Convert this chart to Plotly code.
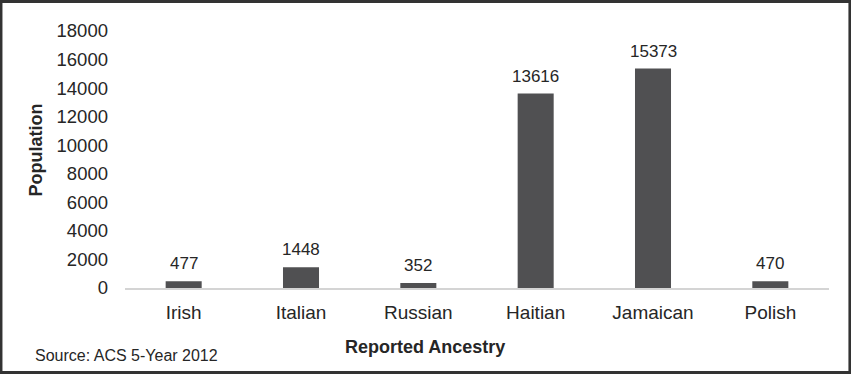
import plotly.graph_objects as go

categories = ["Irish", "Italian", "Russian", "Haitian", "Jamaican", "Polish"]
population = [477, 1448, 352, 13616, 15373, 470]
y_ticks = [0, 2000, 4000, 6000, 8000, 10000, 12000, 14000, 16000, 18000]
y_tick_labels = [str(v) for v in y_ticks]

FONT = "Liberation Sans, Arial, sans-serif"
TXT = "#262626"

fig = go.Figure()
fig.add_trace(go.Bar(
    x=categories, y=population,
    marker=dict(color="#505052", line=dict(width=0)),
    hoverinfo="skip",
))

for c, v in zip(categories, population):
    fig.add_annotation(x=c, y=v, xref="x", yref="y", text=str(v), showarrow=False,
                       yanchor="bottom", yshift=6,
                       font=dict(family=FONT, size=17, color=TXT))

fig.add_annotation(xref="paper", yref="paper", x=(425.5 - 125.4) / 703.2, y=-59 / 257,
                   text="<b>Reported Ancestry</b>", showarrow=False,
                   xanchor="center", yanchor="middle",
                   font=dict(family=FONT, size=18, color=TXT))
fig.add_annotation(xref="paper", yref="paper", x=(37 - 125.4) / 703.2, y=(288 - 150) / 257,
                   text="<b>Population</b>", showarrow=False, textangle=-90,
                   xanchor="center", yanchor="middle",
                   font=dict(family=FONT, size=18, color=TXT))
fig.add_annotation(xref="paper", yref="paper", x=(34 - 125.4) / 703.2, y=-(355 - 288) / 257,
                   text="Source: ACS 5-Year 2012", showarrow=False,
                   xanchor="left", yanchor="middle",
                   font=dict(family=FONT, size=16, color=TXT))

fig.add_shape(type="rect", xref="paper", yref="paper",
              x0=(1.5 - 125.4) / 703.2, x1=(849.5 - 125.4) / 703.2,
              y0=-(372.5 - 288) / 257, y1=(288 - 1.5) / 257,
              line=dict(color="#333333", width=3), fillcolor="rgba(0,0,0,0)", layer="above")

fig.update_layout(
    width=851, height=374,
    margin=dict(l=125.4, r=22.4, t=31, b=86, pad=0),
    paper_bgcolor="white", plot_bgcolor="white",
    bargap=0.693,
    showlegend=False,
    font=dict(family=FONT, color=TXT),
    xaxis=dict(showgrid=False, showline=True, linecolor="#d4d4d4", linewidth=2,
               ticks="", tickfont=dict(size=19, color=TXT), ticklabelstandoff=6,
               zeroline=False, fixedrange=True),
    yaxis=dict(range=[0, 18000], tickmode="array", tickvals=y_ticks, ticktext=y_tick_labels,
               showgrid=False, showline=False,
               zeroline=False, ticks="", tickfont=dict(size=18.5, color=TXT),
               ticklabelstandoff=16, fixedrange=True),
)

fig.write_html("out.html")
